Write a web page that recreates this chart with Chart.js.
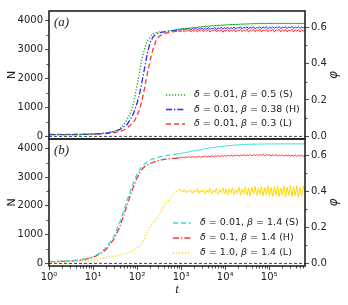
<!DOCTYPE html>
<html><head><meta charset="utf-8">
<script src="https://cdn.jsdelivr.net/npm/chart.js@4.4.1/dist/chart.umd.min.js"></script>
<style>
html,body{margin:0;padding:0;background:#fff;}
#wrap{position:relative;width:348px;height:305px;overflow:hidden;}
#wrap canvas{position:absolute;left:0;top:0;}
</style></head><body>
<div id="wrap"><canvas id="ca" width="348" height="305"></canvas><canvas id="cb" width="348" height="305"></canvas></div>
<script>
// ---------- data ----------
const timeSteps = [1,2,3,5,7,10,15,20,30,40,50,60,70,80,90,100,115,130,150,170,200,230,270,320,380,450,550,700,850,
  1000,1090,1180,1290,1400,1520,1650,1800,1960,2130,2320,2520,2740,2980,
  3240,3530,3840,4170,4540,4940,5370,5840,6350,6910,7510,8170,8890,9670,
  10500,11400,12400,13500,14700,16000,17400,18900,20600,22400,24300,26500,28800,31300,
  34000,37000,40300,43800,47700,51800,56400,61300,66700,72600,78900,85800,93400,101000,
  110000,120000,131000,142000,155000,168000,183000,199000,216000,235000,256000,278000,303000,329000,358000,390000,424000,461000,501000,545000,593000,650000];

// panel (a)
const nA_S = [60,60,62,65,70,80,95,115,175,260,400,600,800,1050,1400,1750,2250,2700,3050,3280,3450,3540,3580,3600,3610,3620,3640,3660,3690,
  3700,3714,3706,3722,3716,3731,3727,3742,3737,3752,3750,3768,3764,3785,
  3780,3796,3790,3804,3798,3812,3806,3820,3814,3828,3822,3836,3830,3842,
  3836,3848,3842,3854,3848,3860,3852,3865,3858,3870,3862,3874,3866,3878,
  3870,3884,3874,3888,3878,3892,3880,3894,3882,3896,3884,3898,3886,3900,
  3884,3898,3886,3900,3882,3898,3886,3902,3884,3898,3888,3900,3882,3898,3886,3900,3884,3898,3886,3900,3888,3894];
const nA_H = [60,60,62,65,70,80,95,110,160,230,330,420,580,740,930,1150,1500,1900,2400,2850,3250,3430,3530,3570,3590,3610,3630,3650,3670,
  3670,3715,3660,3705,3690,3725,3665,3720,3685,3735,3675,3710,3700,3740,
  3680,3730,3695,3745,3690,3725,3705,3755,3685,3740,3710,3760,3695,3735,
  3715,3765,3700,3745,3720,3770,3705,3750,3725,3775,3700,3755,3730,3770,
  3710,3760,3725,3780,3705,3755,3730,3775,3715,3765,3735,3785,3710,3760,
  3730,3780,3715,3770,3735,3785,3710,3765,3740,3780,3720,3775,3735,3790,3715,3765,3740,3785,3720,3770,3735,3750];
const nA_L = [70,70,70,72,75,80,90,100,130,170,220,300,380,470,570,720,950,1250,1700,2150,2650,3000,3300,3450,3520,3560,3590,3610,3630,
  3610,3660,3590,3650,3620,3670,3595,3655,3615,3675,3590,3660,3625,3680,
  3600,3665,3620,3685,3595,3660,3630,3690,3600,3670,3615,3685,3590,3665,
  3625,3690,3600,3670,3620,3695,3595,3665,3630,3690,3605,3675,3620,3695,
  3590,3670,3625,3690,3600,3680,3615,3695,3595,3670,3630,3690,3600,3675,
  3620,3695,3590,3670,3630,3690,3600,3680,3615,3695,3595,3670,3625,3690,3600,3675,3620,3690,3595,3670,3625,3650];

// panel (b)
const nB_S = [70,80,95,120,160,230,380,560,950,1400,1850,2200,2500,2750,2950,3100,3260,3370,3460,3530,3590,3630,3670,3700,3720,3740,3760,3780,3800,
  3820,3830,3840,3852,3862,3875,3888,3900,3912,3922,3932,3942,3952,3962,
  3972,3982,3992,4000,4008,4016,4024,4032,4040,4046,4052,4058,4064,4070,
  4076,4082,4088,4094,4100,4105,4110,4114,4118,4122,4126,4129,4132,4134,
  4136,4138,4140,4141,4142,4143,4144,4145,4145,4146,4146,4147,4147,4148,
  4148,4149,4149,4150,4150,4150,4151,4150,4151,4150,4150,4151,4150,4150,4151,4150,4150,4150,4151,4150,4150,4150];
const nB_H = [60,70,85,110,150,210,340,490,850,1250,1680,2050,2350,2600,2800,2970,3150,3270,3370,3420,3470,3510,3550,3580,3600,3620,3640,3650,3660,
  3670,3700,3665,3705,3680,3710,3675,3715,3685,3705,3690,3720,3680,3715,
  3700,3730,3690,3725,3705,3740,3700,3735,3715,3745,3705,3740,3720,3755,
  3715,3750,3730,3760,3720,3755,3735,3770,3725,3765,3740,3775,3730,3770,
  3745,3780,3735,3775,3750,3785,3740,3775,3755,3790,3740,3780,3750,3775,
  3735,3770,3745,3780,3730,3765,3740,3775,3725,3760,3735,3770,3720,3760,3730,3765,3715,3755,3725,3760,3720,3745];
const nB_L = [40,50,60,80,100,130,170,200,250,290,320,360,400,450,500,540,600,720,900,1080,1280,1420,1520,1700,1900,2080,2250,2450,2560,
  2540,2470,2580,2450,2530,2490,2560,2430,2540,2470,2590,2440,2520,2480,
  2570,2410,2550,2460,2600,2420,2540,2470,2610,2400,2560,2450,2620,2410,
  2580,2380,2600,2440,2640,2390,2570,2430,2650,2370,2590,2420,2660,2380,
  2610,2350,2640,2410,2680,2360,2600,2400,2670,2340,2630,2390,2690,2350,
  2640,2320,2670,2380,2700,2330,2620,2370,2690,2300,2650,2360,2710,2320,2660,2350,2700,2300,2640,2340,2690,2480];

const labelsA = ['δ = 0.01, β = 0.5 (S)', 'δ = 0.01, β = 0.38 (H)', 'δ = 0.01, β = 0.3 (L)'];
const labelsB = ['δ = 0.01, β = 1.4 (S)', 'δ = 0.1, β = 1.4 (H)', 'δ = 1.0, β = 1.4 (L)'];
const nTicks = [0,1000,2000,3000,4000];
const nMinor = [500,1500,2500,3500];
const phiTicks = [0,0.2,0.4,0.6];
const phiMinor = [0.1,0.3,0.5];
const tTicks = [1,10,100,1000,10000,100000];
const T_MIN = 1, T_MAX = 650000;
const N_MIN = -90, N_MAX = 4320;
const PHI_MIN = -0.015, PHI_MAX = 0.69;
const TAIL = 28;

// ---------- helpers ----------
const FONT = "'DejaVu Sans', sans-serif";
const sup = {'0':'⁰','1':'¹','2':'²','3':'³','4':'⁴','5':'⁵','6':'⁶'};
const powLabel = v => '10' + String(Math.round(Math.log10(v))).split('').map(c=>sup[c]).join('');

function makeDs(vals, color, dash) {
  return {
    data: timeSteps.map((t,i)=>({x:t, y:vals[i]})),
    borderColor: color, borderWidth: 1.3, borderDash: dash,
    segment: { borderDash: ctx => ctx.p0DataIndex >= TAIL ? [] : dash,
               borderWidth: ctx => ctx.p0DataIndex >= TAIL ? 1 : 1.3 },
    pointRadius: 0, fill: false, tension: 0, yAxisID: 'y', xAxisID: 'x'
  };
}

function drawMathText(ctx, text, x, y, size) {
  let cx = x;
  for (const ch of text) {
    const it = (ch === 'δ' || ch === 'β');
    ctx.font = (it ? 'italic ' : '') + size + 'px ' + FONT;
    ctx.fillText(ch, cx, y);
    cx += ctx.measureText(ch).width;
  }
}

function decorPlugin(cfg) {
  return {
    id: 'decor',
    beforeDatasetsDraw(chart) {
      const ctx = chart.ctx, a = chart.chartArea, ys = chart.scales.y;
      const y0 = ys.getPixelForValue(0);
      ctx.save();
      ctx.strokeStyle = '#444'; ctx.lineWidth = 1; ctx.setLineDash([3,2]);
      ctx.beginPath(); ctx.moveTo(a.left, y0); ctx.lineTo(a.right, y0); ctx.stroke();
      ctx.restore();
    },
    afterDraw(chart) {
      const ctx = chart.ctx, a = chart.chartArea;
      const ys = chart.scales.y, ps = chart.scales.y2, xs = chart.scales.x;
      ctx.save();
      // minor ticks
      ctx.strokeStyle = '#222'; ctx.lineWidth = 0.8;
      ctx.beginPath();
      nMinor.forEach(v => { const p = Math.round(ys.getPixelForValue(v))+0.5; ctx.moveTo(a.left, p); ctx.lineTo(a.left-2.5, p); });
      phiMinor.forEach(v => { const p = Math.round(ps.getPixelForValue(v))+0.5; ctx.moveTo(a.right, p); ctx.lineTo(a.right+2.5, p); });
      if (cfg.xAxis) {
        for (let d = 0; d <= 5; d++) for (let m = 2; m <= 9; m++) {
          const v = m * Math.pow(10, d); if (v > T_MAX) continue;
          const p = Math.round(xs.getPixelForValue(v))+0.5; ctx.moveTo(p, a.bottom); ctx.lineTo(p, a.bottom+2.5);
        }
      }
      ctx.stroke();
      // frame
      ctx.strokeStyle = '#222'; ctx.lineWidth = 1.6;
      ctx.strokeRect(a.left, a.top, a.right - a.left, a.bottom - a.top);
      // panel label
      ctx.fillStyle = '#222';
      ctx.font = "italic 13px 'Liberation Serif', serif";
      ctx.textBaseline = 'middle'; ctx.textAlign = 'left';
      ctx.fillText(cfg.panel, a.left + 5, a.top + 12);
      // legend
      cfg.legend.forEach((lab, i) => {
        const ly = cfg.legY + i * cfg.legDy;
        const ds = chart.data.datasets[i];
        ctx.strokeStyle = ds.borderColor; ctx.lineWidth = 1.3; ctx.setLineDash(ds.borderDash);
        ctx.beginPath(); ctx.moveTo(cfg.legX0, ly); ctx.lineTo(cfg.legX1, ly); ctx.stroke();
        ctx.setLineDash([]);
        ctx.fillStyle = '#222'; ctx.textAlign = 'left'; ctx.textBaseline = 'middle';
        drawMathText(ctx, lab, cfg.legTx, ly, 9.5);
      });
      // axis titles
      const midY = (a.top + a.bottom) / 2;
      ctx.fillStyle = '#222';
      ctx.font = '11px ' + FONT; ctx.textAlign = 'center'; ctx.textBaseline = 'middle';
      ctx.save(); ctx.translate(12, midY); ctx.rotate(-Math.PI/2); ctx.fillText('N', 0, 0); ctx.restore();
      ctx.font = 'italic 12px ' + FONT;
      ctx.save(); ctx.translate(334, midY); ctx.rotate(-Math.PI/2); ctx.fillText('φ', 0, 0); ctx.restore();
      if (cfg.xAxis) {
        ctx.font = "italic 13px 'Liberation Serif', serif";
        ctx.fillText('t', (a.left + a.right)/2, 290);
      }
      ctx.restore();
    }
  };
}

function scales(showX) {
  const tickFont = { family: FONT, size: 10 };
  return {
    x: {
      type: 'logarithmic', min: T_MIN, max: T_MAX, display: showX, position: 'bottom',
      afterBuildTicks: s => { s.ticks = tTicks.map(v => ({ value: v })); },
      afterFit: s => { if (showX) s.height = 39; },
      grid: { display: true, drawOnChartArea: false, drawTicks: true, tickLength: 4, color: '#222', lineWidth: 0.8 },
      border: { display: false },
      ticks: { font: tickFont, color: '#222', padding: 1, maxRotation: 0, autoSkip: false, callback: v => powLabel(v) }
    },
    y: {
      type: 'linear', position: 'left', min: N_MIN, max: N_MAX,
      afterBuildTicks: s => { s.ticks = nTicks.map(v => ({ value: v })); },
      afterFit: s => { s.width = 49; },
      grid: { display: true, drawOnChartArea: false, drawTicks: true, tickLength: 4, color: '#222', lineWidth: 0.8 },
      border: { display: false },
      ticks: { font: tickFont, color: '#222', padding: 2, callback: v => String(v) }
    },
    y2: {
      type: 'linear', position: 'right', min: PHI_MIN, max: PHI_MAX,
      afterBuildTicks: s => { s.ticks = phiTicks.map(v => ({ value: v })); },
      afterFit: s => { s.width = 43; },
      grid: { display: true, drawOnChartArea: false, drawTicks: true, tickLength: 4, color: '#222', lineWidth: 0.8 },
      border: { display: false },
      ticks: { font: tickFont, color: '#222', padding: 2, callback: v => v.toFixed(1) }
    }
  };
}

const common = {
  responsive: false, animation: false, devicePixelRatio: 1,
  plugins: { legend: { display: false }, tooltip: { enabled: false } },
  events: []
};

new Chart(document.getElementById('ca'), {
  type: 'line',
  data: { datasets: [
    makeDs(nA_S, '#1fa51f', [1.2, 1.8]),
    makeDs(nA_H, '#2a2aff', [6, 2, 1.3, 2]),
    makeDs(nA_L, '#ff3434', [5, 3])
  ]},
  options: Object.assign({}, common, { layout: { padding: { top: 11, bottom: 166, left: 0, right: 0 } }, scales: scales(false) }),
  plugins: [decorPlugin({ panel: '(a)', legend: labelsA, legX0: 166, legX1: 185, legTx: 194, legY: 95, legDy: 14.5, xAxis: false })]
});

new Chart(document.getElementById('cb'), {
  type: 'line',
  data: { datasets: [
    makeDs(nB_S, '#33e0d8', [5, 3]),
    makeDs(nB_H, '#ff3434', [6, 2, 1.3, 2]),
    makeDs(nB_L, '#ffd700', [1.2, 1.8])
  ]},
  options: Object.assign({}, common, { layout: { padding: { top: 139, bottom: 0, left: 0, right: 0 } }, scales: scales(true) }),
  plugins: [decorPlugin({ panel: '(b)', legend: labelsB, legX0: 173, legX1: 191, legTx: 200, legY: 223, legDy: 15, xAxis: true })]
});
</script>
</body></html>
